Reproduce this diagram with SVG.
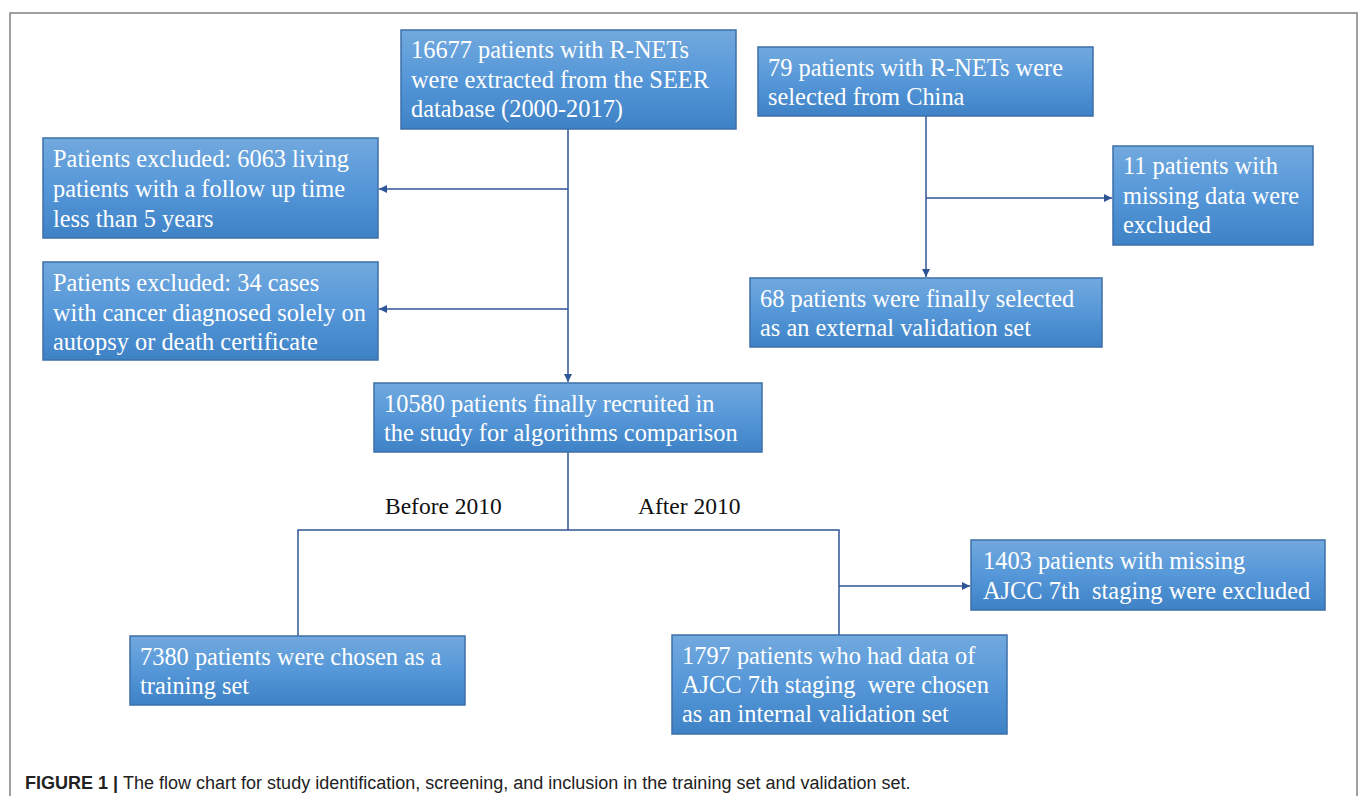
<svg xmlns="http://www.w3.org/2000/svg" width="1360" height="796" viewBox="0 0 1360 796">
<style>
.box{fill:url(#g);stroke:#3d6fa8;stroke-width:1.5}
.bt{font-family:"Liberation Serif","Times New Roman",serif;font-size:24.4px;fill:#ffffff}
.lab{font-family:"Liberation Serif","Times New Roman",serif;font-size:23.5px;fill:#111111}
.ln{fill:none;stroke:#2f5597;stroke-width:1.5}
.cap{font-family:"Liberation Sans",Arial,sans-serif;font-size:18px;fill:#222222}
</style>
<defs>
<linearGradient id="g" x1="0" y1="0" x2="0" y2="1">
<stop offset="0" stop-color="#72a9de"/>
<stop offset="0.5" stop-color="#5597d8"/>
<stop offset="1" stop-color="#3e82c6"/>
</linearGradient>
<marker id="ah" viewBox="0 0 10 10" refX="10" refY="5" markerWidth="8" markerHeight="8" markerUnits="userSpaceOnUse" orient="auto">
<path d="M0,0 L10,5 L0,10 z" fill="#2f5597"/>
</marker>
</defs>
<rect width="1360" height="796" fill="#ffffff"/>
<path d="M10,800 L10,13 L1357,13 L1357,800" fill="none" stroke="#808080" stroke-width="1.5"/>

<g id="connectors">
<path class="ln" d="M568,129 L568,382" marker-end="url(#ah)"/>
<path class="ln" d="M568,189 L379,189" marker-end="url(#ah)"/>
<path class="ln" d="M568,309 L379,309" marker-end="url(#ah)"/>
<path class="ln" d="M926,116 L926,277" marker-end="url(#ah)"/>
<path class="ln" d="M926,198 L1112,198" marker-end="url(#ah)"/>
<path class="ln" d="M568,452 L568,530"/>
<path class="ln" d="M298,636 L298,530 L839,530 L839,635"/>
<path class="ln" d="M839,586 L970,586" marker-end="url(#ah)"/>
<text class="lab" x="385" y="514">Before 2010</text>
<text class="lab" x="638" y="514">After 2010</text>
</g>

<g id="n-seer">
<rect class="box" x="401" y="30" width="335" height="99"/>
<text class="bt" x="411" y="58">16677 patients with R-NETs</text>
<text class="bt" x="411" y="88">were extracted from the SEER</text>
<text class="bt" x="411" y="117">database (2000-2017)</text>
</g>

<g id="n-china">
<rect class="box" x="758" y="47" width="335" height="69"/>
<text class="bt" x="768" y="76">79 patients with R-NETs were</text>
<text class="bt" x="768" y="105">selected from China</text>
</g>

<g id="n-excl1">
<rect class="box" x="43" y="138" width="335" height="100"/>
<text class="bt" x="53" y="167">Patients excluded: 6063 living</text>
<text class="bt" x="53" y="197">patients with a follow up time</text>
<text class="bt" x="53" y="227">less than 5 years</text>
</g>

<g id="n-excl2">
<rect class="box" x="43" y="262" width="335" height="98"/>
<text class="bt" x="53" y="291">Patients excluded: 34 cases</text>
<text class="bt" x="53" y="321">with cancer diagnosed solely on</text>
<text class="bt" x="53" y="350">autopsy or death certificate</text>
</g>

<g id="n-missing11">
<rect class="box" x="1113" y="146" width="200" height="99"/>
<text class="bt" x="1123" y="174">11 patients with</text>
<text class="bt" x="1123" y="204">missing data were</text>
<text class="bt" x="1123" y="233">excluded</text>
</g>

<g id="n-external">
<rect class="box" x="750" y="278" width="352" height="69"/>
<text class="bt" x="760" y="307">68 patients were finally selected</text>
<text class="bt" x="760" y="336">as an external validation set</text>
</g>

<g id="n-recruited">
<rect class="box" x="374" y="383" width="388" height="69"/>
<text class="bt" x="384" y="412">10580 patients finally recruited in</text>
<text class="bt" x="384" y="441">the study for algorithms comparison</text>
</g>

<g id="n-training">
<rect class="box" x="130" y="636" width="335" height="69"/>
<text class="bt" x="140" y="665">7380 patients were chosen as a</text>
<text class="bt" x="140" y="694">training set</text>
</g>

<g id="n-internal">
<rect class="box" x="672" y="635" width="335" height="99"/>
<text class="bt" x="682" y="664">1797 patients who had data of</text>
<text class="bt" x="682" y="693" xml:space="preserve">AJCC 7th staging  were chosen</text>
<text class="bt" x="682" y="722">as an internal validation set</text>
</g>

<g id="n-missing1403">
<rect class="box" x="971" y="540" width="354" height="70"/>
<text class="bt" x="983" y="569">1403 patients with missing</text>
<text class="bt" x="983" y="599" xml:space="preserve">AJCC 7th  staging were excluded</text>
</g>

<text class="cap" x="25" y="789"><tspan font-weight="bold">FIGURE 1 | </tspan>The flow chart for study identification, screening, and inclusion in the training set and validation set.</text>
</svg>
